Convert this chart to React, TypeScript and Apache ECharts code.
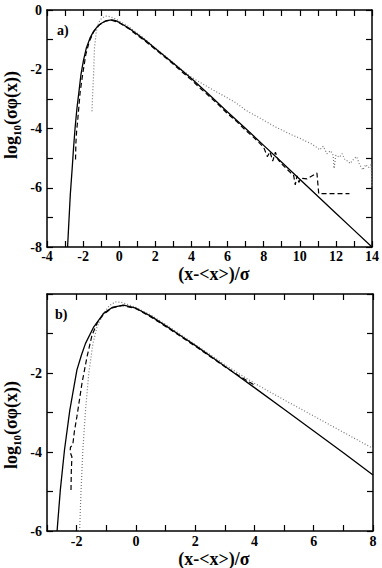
import React, { useEffect, useRef } from "react";
import * as echarts from "echarts";

// Panel a) curves: [x, log10(sigma*phi)]
const solidA: number[][] = [
  [-2.86, -8], [-2.71, -6.24], [-2.6, -5.3], [-2.53, -4.66], [-2.44, -3.95], [-2.34, -3.31],
  [-2.22, -2.7], [-2.12, -2.18], [-1.98, -1.7], [-1.82, -1.28], [-1.62, -0.95], [-1.42, -0.72],
  [-1.2, -0.55], [-0.96, -0.44], [-0.7, -0.36], [-0.41, -0.33], [-0.2, -0.36], [0, -0.42],
  [0.5, -0.6], [1, -0.82], [1.5, -1.05], [2, -1.3], [3, -1.8], [4, -2.31], [5, -2.87],
  [6, -3.44], [7, -4.0], [8, -4.57], [9, -5.14], [10, -5.71], [11, -6.29], [12, -6.86],
  [13, -7.43], [14, -8.0],
];
const dashedA: number[][] = [
  [-2.42, -5.05], [-2.4, -4.5], [-2.36, -4.1], [-2.29, -3.65], [-2.16, -2.75], [-2.02, -2.15],
  [-1.85, -1.5], [-1.65, -1.05], [-1.4, -0.72], [-1.1, -0.5], [-0.8, -0.38], [-0.45, -0.34],
  [0, -0.43], [0.5, -0.62], [1, -0.85], [1.5, -1.08], [2, -1.33], [2.5, -1.58], [3, -1.83],
  [3.5, -2.1], [4, -2.36], [4.5, -2.65], [5, -2.92], [5.5, -3.2], [6, -3.5], [6.5, -3.76],
  [7, -4.06], [7.5, -4.33], [8, -4.63], [8.2, -4.95], [8.35, -4.78], [8.5, -5.1], [8.65, -4.8],
  [8.8, -5.05], [9.0, -5.2], [9.3, -5.38], [9.5, -5.5], [9.65, -5.55], [9.75, -5.9], [9.85, -5.6],
  [9.95, -5.82], [10.05, -5.68], [10.4, -5.7], [10.95, -5.5], [11.05, -6.2], [12.75, -6.2],
];
const dottedA: number[][] = [
  [-1.51, -3.42], [-1.46, -2.7], [-1.42, -2.18], [-1.37, -1.28], [-1.27, -0.72], [-1.15, -0.45],
  [-1.05, -0.33], [-0.9, -0.25], [-0.78, -0.21], [-0.6, -0.21], [-0.4, -0.25], [-0.2, -0.3],
  [0, -0.37], [0.5, -0.55], [1, -0.78], [1.5, -1.02], [2, -1.28], [2.5, -1.53], [3, -1.78],
  [3.5, -2.03], [4, -2.27], [4.5, -2.45], [5, -2.63], [5.5, -2.8], [6, -2.97], [6.5, -3.15],
  [7, -3.38], [7.5, -3.55], [8, -3.72], [8.5, -3.9], [9, -4.05], [9.5, -4.2], [10, -4.33],
  [10.3, -4.42], [10.6, -4.5], [10.9, -4.62], [11.1, -4.72], [11.3, -4.6], [11.5, -4.85],
  [11.7, -4.75], [11.85, -4.9], [11.9, -5.35], [12.0, -4.9], [12.2, -4.97], [12.35, -4.85],
  [12.5, -5.05], [12.65, -5.1], [12.8, -5.18], [13.0, -5.02], [13.15, -4.95], [13.3, -5.2],
  [13.5, -5.4], [13.65, -5.22], [13.8, -5.32], [13.95, -5.22], [14, -6.0],
];

// Panel b) curves
const solidB: number[][] = [
  [-2.66, -6], [-2.55, -4.96], [-2.41, -3.95], [-2.23, -2.94], [-1.99, -1.92], [-1.84, -1.55],
  [-1.7, -1.25], [-1.42, -0.83], [-1.09, -0.49], [-0.8, -0.34], [-0.41, -0.28], [0, -0.36],
  [0.5, -0.56], [1, -0.8], [1.5, -1.05], [2, -1.3], [3, -1.83], [4, -2.37], [5, -2.92],
  [6, -3.47], [7, -4.02], [8, -4.58],
];
const dashedB: number[][] = [
  [-2.19, -4.96], [-2.18, -4.5], [-2.16, -4.12], [-2.22, -4.0], [-2.21, -3.88], [-2.13, -3.82],
  [-2.08, -3.5], [-1.99, -3.1], [-1.82, -2.26], [-1.65, -1.59], [-1.48, -1.04], [-1.31, -0.74],
  [-1.1, -0.52], [-0.8, -0.35], [-0.45, -0.29], [0, -0.37], [0.5, -0.58], [1, -0.82],
  [1.5, -1.07], [2, -1.32], [2.5, -1.58], [3, -1.84], [3.5, -2.08], [4.05, -2.33],
];
const dottedB: number[][] = [
  [-1.9, -6], [-1.85, -4.96], [-1.79, -3.95], [-1.7, -2.94], [-1.59, -2.01], [-1.45, -1.25],
  [-1.31, -0.83], [-1.1, -0.5], [-0.9, -0.3], [-0.7, -0.2], [-0.5, -0.21], [-0.25, -0.27],
  [0, -0.34], [0.5, -0.53], [1, -0.77], [1.5, -1.02], [2, -1.28], [2.5, -1.53], [3, -1.79],
  [3.5, -2.03], [4, -2.26], [5, -2.68], [6, -3.09], [7, -3.5], [8, -3.91],
];

const panelLabels = ["a)", "b)"];
const xTitle = "(x-<x>)/σ";

const FONT = "'Liberation Serif', 'Times New Roman', serif";

export default function App() {
  const ref = useRef<HTMLDivElement>(null);
  useEffect(() => {
    if (!ref.current) return;
    const chart = echarts.init(ref.current, undefined, { renderer: "svg" });

    const evenFmt = (skipZero: boolean) => (v: number) =>
      Math.round(v) % 2 === 0 && !(skipZero && Math.round(v) === 0) ? String(Math.round(v)) : "";

    const axisCommon = (showLabel: boolean, fmt: any, margin: number) => ({
      type: "value",
      interval: 1,
      axisLine: { show: true, onZero: false, lineStyle: { color: "#000", width: 1.5 } },
      axisTick: { show: true, inside: true, length: 6, lineStyle: { color: "#000", width: 1.2 } },
      axisLabel: {
        show: showLabel,
        formatter: fmt,
        color: "#000",
        fontFamily: FONT,
        fontWeight: "bold",
        fontSize: 14,
        lineHeight: 14,
        margin,
      },
      splitLine: { show: false },
    });

    const xAxes = [
      { ...axisCommon(true, evenFmt(false), 2), gridIndex: 0, min: -4, max: 14, position: "bottom" },
      { ...axisCommon(false, evenFmt(false), 2), gridIndex: 0, min: -4, max: 14, position: "top" },
      { ...axisCommon(true, evenFmt(false), 3), gridIndex: 1, min: -3, max: 8, position: "bottom" },
      { ...axisCommon(false, evenFmt(false), 3), gridIndex: 1, min: -3, max: 8, position: "top" },
    ];
    const yAxes = [
      { ...axisCommon(true, evenFmt(false), 5), gridIndex: 0, min: -8, max: 0, position: "left" },
      { ...axisCommon(false, evenFmt(false), 5), gridIndex: 0, min: -8, max: 0, position: "right" },
      { ...axisCommon(true, evenFmt(true), 5), gridIndex: 1, min: -6, max: 0, position: "left" },
      { ...axisCommon(false, evenFmt(true), 5), gridIndex: 1, min: -6, max: 0, position: "right" },
    ];

    const line = (data: number[][], idx: number, kind: string) => ({
      type: "line",
      xAxisIndex: idx,
      yAxisIndex: idx,
      data,
      showSymbol: false,
      symbol: "none",
      smooth: false,
      clip: true,
      lineStyle:
        kind === "solid"
          ? { color: "#000", width: 1.3, type: "solid" }
          : kind === "dashed"
          ? { color: "#000", width: 1.2, type: [5, 3] }
          : { color: "#777", width: 1.2, type: [1, 2] },
      z: kind === "solid" ? 3 : 2,
    });

    const yTitle = (y: number) => ({
      type: "text",
      x: 11,
      y,
      rotation: Math.PI / 2,
      style: {
        text: "{a|log}{b|10}{a|(σφ(x))}",
        align: "center",
        verticalAlign: "middle",
        fill: "#000",
        rich: {
          a: { fontFamily: FONT, fontWeight: "bold", fontSize: 18, lineHeight: 22, fill: "#000" },
          b: {
            fontFamily: FONT,
            fontWeight: "bold",
            fontSize: 11,
            lineHeight: 14,
            verticalAlign: "bottom",
            fill: "#000",
          },
        },
      },
    });

    const xTitleEl = (y: number) => ({
      type: "text",
      x: 214,
      y,
      style: {
        text: xTitle,
        align: "center",
        verticalAlign: "middle",
        fontFamily: FONT,
        fontWeight: "bold",
        fontSize: 18,
        fill: "#000",
      },
    });

    const panelLabel = (text: string, x: number, y: number) => ({
      type: "text",
      x,
      y,
      style: {
        text,
        align: "left",
        verticalAlign: "middle",
        fontFamily: FONT,
        fontWeight: "bold",
        fontSize: 14,
        fill: "#000",
      },
    });

    chart.setOption({
      animation: false,
      backgroundColor: "#fff",
      grid: [
        { left: 47, top: 10, width: 326, height: 237 },
        { left: 47, top: 294, width: 326, height: 237 },
      ],
      xAxis: xAxes,
      yAxis: yAxes,
      series: [
        line(dottedA, 0, "dotted"),
        line(dashedA, 0, "dashed"),
        line(solidA, 0, "solid"),
        line(dottedB, 2, "dotted"),
        line(dashedB, 2, "dashed"),
        line(solidB, 2, "solid"),
      ],
      graphic: [
        yTitle(115),
        yTitle(425),
        xTitleEl(274),
        xTitleEl(559),
        panelLabel(panelLabels[0], 57, 30),
        panelLabel(panelLabels[1], 55, 314),
      ],
    });
    return () => chart.dispose();
  }, []);
  return (
    <div
      ref={ref}
      style={{ position: "fixed", left: 0, top: 0, width: 382, height: 568, background: "#fff" }}
    />
  );
}
